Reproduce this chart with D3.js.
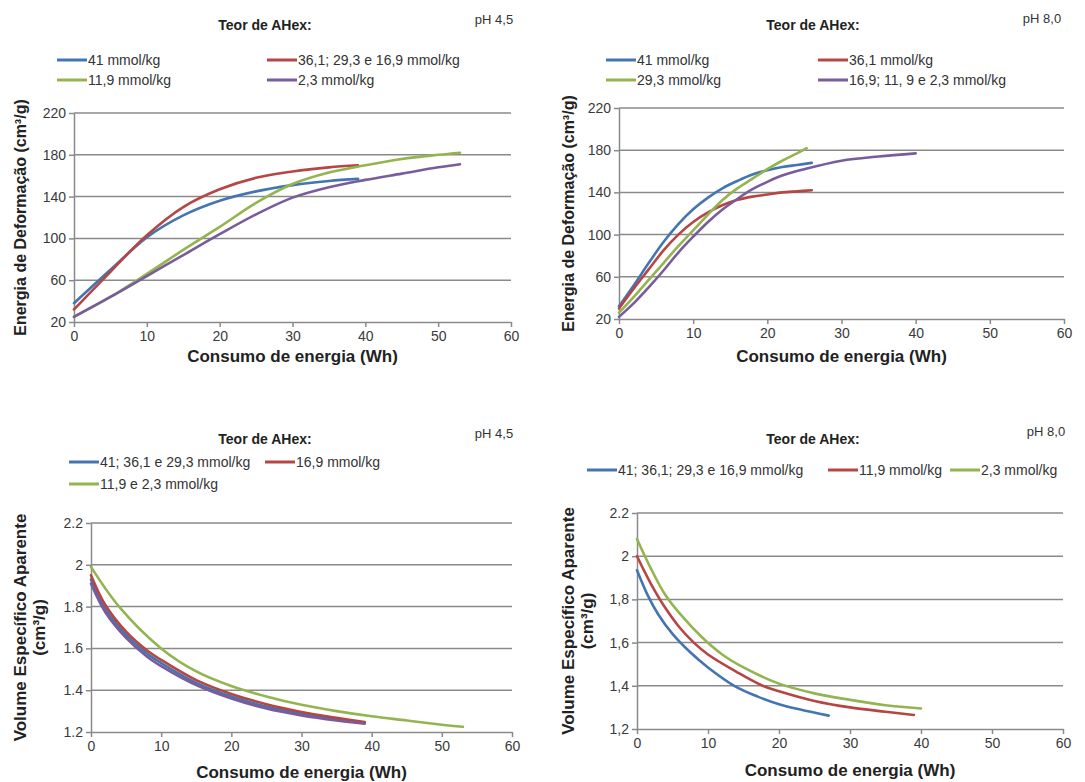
<!DOCTYPE html>
<html>
<head>
<meta charset="utf-8">
<script src="https://cdn.jsdelivr.net/npm/d3@7"></script>
<style>
  body { margin: 0; background: #fff; }
  text { font-family: "Liberation Sans", Arial, sans-serif; }
  .tick text { font-family: "Liberation Sans Narrow", "Liberation Sans", Arial, sans-serif; }
</style>
</head>
<body>
<svg id="chart" width="1085" height="782"></svg>
<script>
const colors = ['#4275b2', '#b64643', '#93b44f', '#785c9c'];
const xTicks = [0, 10, 20, 30, 40, 50, 60];
const energyTicks = [20, 60, 100, 140, 180, 220];
const volumeTicks = [1.2, 1.4, 1.6, 1.8, 2.0, 2.2];
const volumeLabels45 = ['1.2', '1.4', '1.6', '1.8', '2', '2.2'];
const volumeLabels80 = ['1,2', '1,4', '1,6', '1,8', '2', '2.2'];

// Energia de deformação, pH 4,5
const e45Labels = ['41 mmol/kg', '36,1; 29,3 e 16,9 mmol/kg', '11,9 mmol/kg', '2,3 mmol/kg'];
const e45Blue = [[0, 38], [5, 70], [10, 101], [15, 122], [20, 136], [25, 145], [30, 151], [35, 155], [39, 157]];
const e45Red = [[0, 32], [5, 68], [10, 103], [15, 130], [20, 147], [25, 158], [30, 164], [35, 168], [39, 170]];
const e45Green = [[0, 25], [5, 44], [10, 66], [15, 89], [20, 111], [25, 134], [30, 152], [35, 163], [40, 170], [45, 176], [50, 180], [53, 182]];
const e45Purple = [[0, 25], [5, 44], [10, 64], [15, 84], [20, 104], [25, 123], [30, 139], [35, 149], [40, 156], [45, 162], [50, 168], [53, 171]];

// Energia de deformação, pH 8,0
const e80Labels = ['41 mmol/kg', '36,1 mmol/kg', '29,3 mmol/kg', '16,9; 11, 9 e 2,3 mmol/kg'];
const e80Blue = [[0, 32], [2, 52], [4, 73], [6, 93], [8, 110], [10, 124], [12, 135], [14, 144], [16, 151], [18, 157], [20, 161], [22, 164], [24, 166], [26, 168]];
const e80Red = [[0, 30], [2, 49], [4, 67], [6, 85], [8, 100], [10, 112], [12, 121], [14, 128], [16, 133], [18, 136], [20, 138], [22, 140], [24, 141], [26, 142]];
const e80Green = [[0, 26], [2, 41], [4, 57], [6, 73], [8, 89], [10, 104], [12, 119], [14, 133], [16, 144], [18, 153], [20, 162], [22, 170], [24, 177], [25.3, 182]];
const e80Purple = [[0, 22], [2, 35], [4, 50], [6, 66], [8, 83], [10, 98], [12, 112], [14, 124], [16, 134], [18, 143], [20, 150], [22, 156], [25, 162], [30, 170], [35, 174], [40, 177]];

// Volume específico aparente, pH 4,5
const v45Labels = ['41; 36,1 e 29,3 mmol/kg', '16,9 mmol/kg', '11,9 e 2,3 mmol/kg', null];
const v45Blue = [[0, 1.93], [2, 1.79], [5, 1.665], [8, 1.575], [10, 1.53], [15, 1.435], [20, 1.37], [25, 1.322], [30, 1.287], [35, 1.262], [39, 1.245]];
const v45Red = [[0, 1.95], [2, 1.81], [5, 1.68], [8, 1.59], [10, 1.545], [15, 1.448], [20, 1.382], [25, 1.333], [30, 1.296], [35, 1.268], [39, 1.248]];
const v45Green = [[0, 1.99], [4, 1.8], [10, 1.6], [15, 1.49], [20, 1.42], [25, 1.37], [30, 1.33], [35, 1.3], [40, 1.275], [45, 1.255], [50, 1.235], [53, 1.225]];
const v45Purple = [[0, 1.91], [2, 1.775], [5, 1.65], [8, 1.56], [10, 1.515], [15, 1.424], [20, 1.36], [25, 1.312], [30, 1.279], [35, 1.255], [39, 1.24]];

// Volume específico aparente, pH 8,0
const v80Labels = ['41; 36,1; 29,3 e 16,9 mmol/kg', '11,9 mmol/kg', '2,3 mmol/kg'];
const v80Blue = [[0, 1.935], [1.5, 1.82], [3, 1.73], [5, 1.64], [7.5, 1.555], [10, 1.485], [13.7, 1.4], [17, 1.35], [20, 1.315], [23, 1.29], [27, 1.262]];
const v80Red = [[0, 2.0], [2, 1.87], [4, 1.76], [6, 1.67], [8, 1.6], [10, 1.545], [14, 1.465], [17.7, 1.4], [20, 1.375], [25, 1.33], [30, 1.3], [35, 1.28], [39, 1.265]];
const v80Green = [[0, 2.08], [2, 1.94], [4, 1.82], [6, 1.735], [9.3, 1.62], [12, 1.545], [15, 1.485], [20, 1.41], [25, 1.365], [30, 1.335], [35, 1.31], [40, 1.295]];

const svg = d3.select('#chart');
const gridColor = '#8a8a8a';

const panels = [
  {
    left: 74, right: 511, top: 113, bottom: 322,
    yDomain: [20, 220], yTicks: energyTicks, yLabels: energyTicks.map(String),
    series: [e45Blue, e45Red, e45Green, e45Purple], labels: e45Labels,
    legendPos: [[57, 60], [267, 60], [57, 80], [267, 80]],
    title: [265, 30], ph: 'pH 4,5', phPos: [494, 24],
    yTitle: ['Energia de Deformação (cm³/g)'], yTitleX: 20, yFont: 16,
    xTitleY: 362, xFont: 17,
  },
  {
    left: 619, right: 1064, top: 108, bottom: 319,
    yDomain: [20, 220], yTicks: energyTicks, yLabels: energyTicks.map(String),
    series: [e80Blue, e80Red, e80Green, e80Purple], labels: e80Labels,
    legendPos: [[606, 60], [818, 60], [606, 80], [818, 80]],
    title: [813, 30], ph: 'pH 8,0', phPos: [1042, 23],
    yTitle: ['Energia de Deformação (cm³/g)'], yTitleX: 568, yFont: 16,
    xTitleY: 362, xFont: 17,
  },
  {
    left: 91, right: 512, top: 523, bottom: 732,
    yDomain: [1.2, 2.2], yTicks: volumeTicks, yLabels: volumeLabels45,
    series: [v45Blue, v45Red, v45Green, v45Purple], labels: v45Labels,
    legendPos: [[69, 462], [265, 462], [69, 484]],
    title: [265, 444], ph: 'pH 4,5', phPos: [494, 438],
    yTitle: ['Volume Específico Aparente', '(cm³/g)'], yTitleX: 20, yFont: 17,
    xTitleY: 778, xFont: 17,
  },
  {
    left: 637, right: 1063, top: 513, bottom: 729,
    yDomain: [1.2, 2.2], yTicks: volumeTicks, yLabels: volumeLabels80,
    series: [v80Blue, v80Red, v80Green], labels: v80Labels,
    legendPos: [[587, 470], [828, 470], [950, 470]],
    title: [813, 444], ph: 'pH 8,0', phPos: [1046, 436],
    yTitle: ['Volume Específico Aparente', '(cm³/g)'], yTitleX: 568, yFont: 17,
    xTitleY: 776, xFont: 17,
  },
];

function drawPanel(p) {
  const g = svg.append('g');
  const x = d3.scaleLinear().domain([0, 60]).range([p.left, p.right]);
  const y = d3.scaleLinear().domain(p.yDomain).range([p.bottom, p.top]);

  // horizontal gridlines
  g.selectAll('line.grid')
    .data(p.yTicks.slice(1))
    .join('line')
    .attr('class', 'grid')
    .attr('x1', p.left)
    .attr('x2', p.right)
    .attr('y1', d => y(d))
    .attr('y2', d => y(d))
    .attr('stroke', gridColor)
    .attr('stroke-width', 1.5);

  const xAxis = d3.axisBottom(x).tickValues(xTicks).tickSize(5).tickSizeOuter(0).tickPadding(4);
  const yAxis = d3.axisLeft(y)
    .tickValues(p.yTicks)
    .tickSize(5)
    .tickSizeOuter(0)
    .tickPadding(3)
    .tickFormat((d, i) => p.yLabels[i]);

  const gx = g.append('g').attr('transform', `translate(0,${p.bottom})`).call(xAxis);
  const gy = g.append('g').attr('transform', `translate(${p.left},0)`).call(yAxis);
  [gx, gy].forEach(a => {
    a.select('.domain').attr('stroke', gridColor).attr('stroke-width', 1.5);
    a.selectAll('.tick line').attr('stroke', gridColor).attr('stroke-width', 1.5);
    a.selectAll('.tick text').attr('font-size', 14).attr('fill', '#3a3a3a');
  });

  const line = d3.line()
    .x(d => x(d[0]))
    .y(d => y(d[1]))
    .curve(d3.curveCatmullRom.alpha(0.5));

  p.series.forEach((s, i) => {
    g.append('path')
      .attr('d', line(s))
      .attr('fill', 'none')
      .attr('stroke', colors[i])
      .attr('stroke-width', 2.6)
      .attr('stroke-linecap', 'round');
  });

  // legend
  p.labels.forEach((lab, i) => {
    if (!lab) return;
    const [lx, ly] = p.legendPos[i];
    g.append('line')
      .attr('x1', lx).attr('x2', lx + 30)
      .attr('y1', ly).attr('y2', ly)
      .attr('stroke', colors[i])
      .attr('stroke-width', 3);
    g.append('text')
      .attr('x', lx + 31)
      .attr('y', ly + 5)
      .attr('font-size', 14)
      .attr('fill', '#333')
      .text(lab);
  });

  g.append('text')
    .attr('x', p.title[0])
    .attr('y', p.title[1])
    .attr('text-anchor', 'middle')
    .attr('font-size', 14)
    .attr('font-weight', 'bold')
    .attr('fill', '#222')
    .text('Teor de AHex:');

  g.append('text')
    .attr('x', p.phPos[0])
    .attr('y', p.phPos[1])
    .attr('text-anchor', 'middle')
    .attr('font-size', 13)
    .attr('fill', '#333')
    .text(p.ph);

  // axis titles
  g.append('text')
    .attr('x', (p.left + p.right) / 2)
    .attr('y', p.xTitleY)
    .attr('text-anchor', 'middle')
    .attr('font-size', p.xFont)
    .attr('font-weight', 'bold')
    .attr('fill', '#222')
    .text('Consumo de energia (Wh)');

  const cy = (p.top + p.bottom) / 2;
  p.yTitle.forEach((t, i) => {
    const tx = p.yTitleX + i * 19;
    g.append('text')
      .attr('transform', `translate(${tx},${cy}) rotate(-90)`)
      .attr('text-anchor', 'middle')
      .attr('dy', '0.35em')
      .attr('font-size', p.yFont)
      .attr('font-weight', 'bold')
      .attr('fill', '#222')
      .text(t);
  });
}

panels.forEach(drawPanel);
</script>
</body>
</html>
